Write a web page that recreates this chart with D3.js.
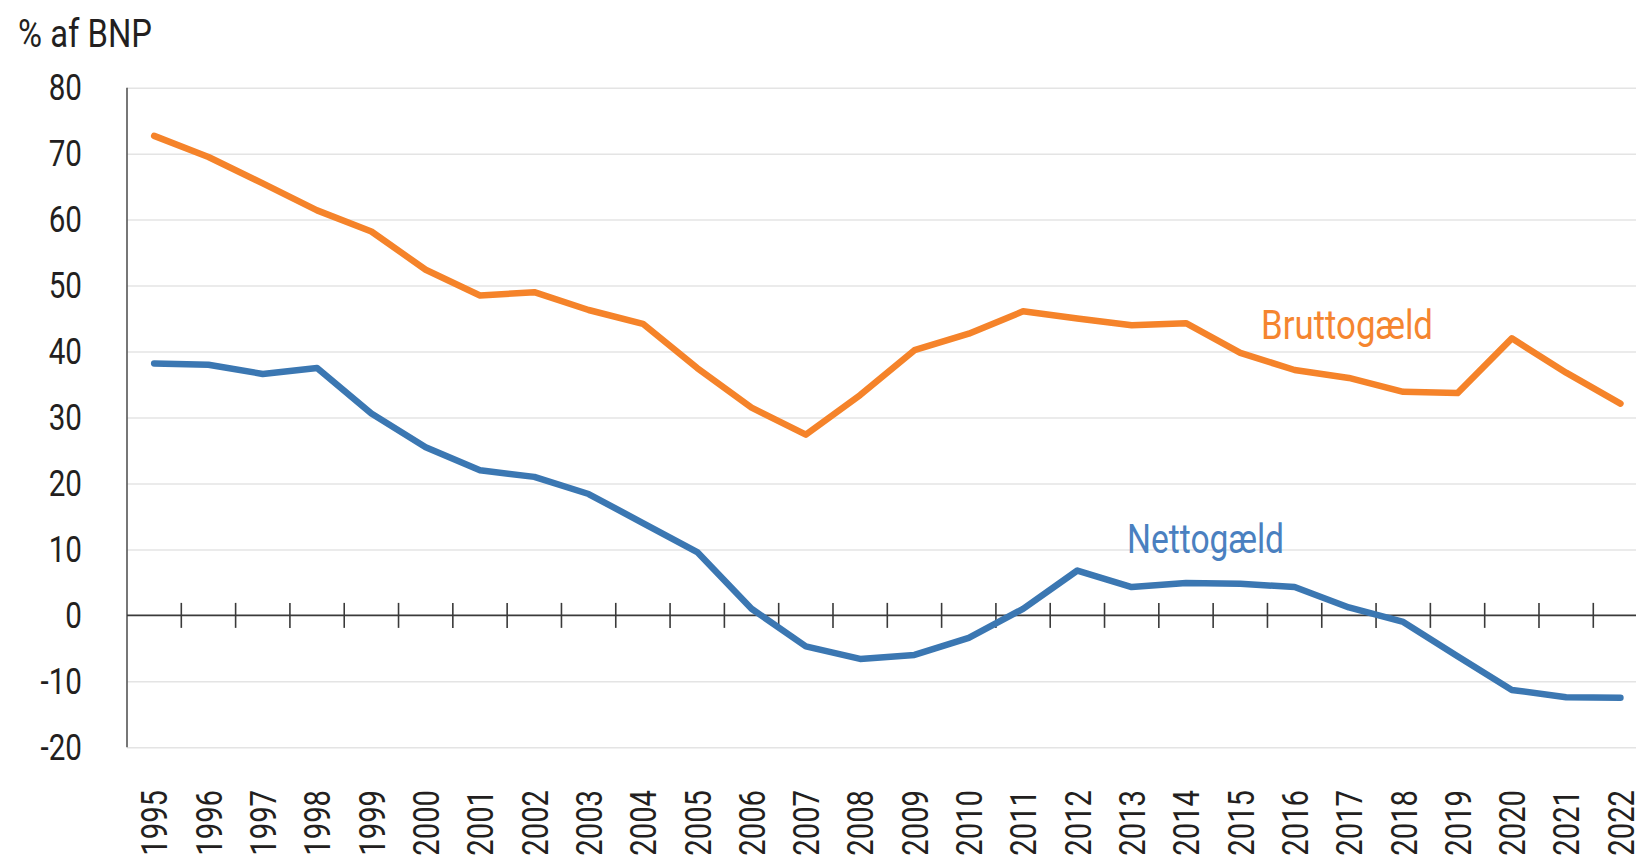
<!DOCTYPE html>
<html>
  <head>
    <meta charset="utf-8" />
    <title>Brutto- og nettogæld</title>
    <script src="https://d3js.org/d3.v7.min.js"></script>
    <style>
      body {
        margin: 0;
        background: #fff;
      }
      svg {
        display: block;
        font-family: Roboto, "Liberation Sans", sans-serif;
      }
      .grid line {
        stroke: #e4e4e4;
        stroke-width: 1.5;
      }
      .tick text {
        fill: #231f20;
      }
    </style>
  </head>
  <body>
    <svg width="1636" height="860"></svg>

    <script>
      // Data, % af BNP
      const years = ["1995", "1996", "1997", "1998", "1999", "2000", "2001", "2002", "2003", "2004",
        "2005", "2006", "2007", "2008", "2009", "2010", "2011", "2012", "2013", "2014",
        "2015", "2016", "2017", "2018", "2019", "2020", "2021", "2022"];
      const brutto = [72.7, 69.5, 65.5, 61.4, 58.2, 52.4, 48.5, 49.0, 46.3, 44.2,
        37.5, 31.5, 27.4, 33.4, 40.2, 42.7, 46.1, 45.0, 44.0, 44.3,
        39.8, 37.2, 36.0, 33.9, 33.7, 42.0, 36.8, 32.1];
      const netto = [38.2, 38.0, 36.6, 37.5, 30.6, 25.5, 22.0, 21.0, 18.4, 14.0,
        9.6, 1.0, -4.7, -6.6, -6.0, -3.4, 1.0, 6.8, 4.3, 4.9,
        4.8, 4.3, 1.2, -1.0, -6.2, -11.3, -12.4, -12.5];
      const yTicks = [-20, -10, 0, 10, 20, 30, 40, 50, 60, 70, 80];

      const svg = d3.select("svg");
      const width = +svg.attr("width");

      // plot runs past the right edge, as in the original
      const plotLeft = 127, plotRight = 1647.6;
      const plotTop = 87.7, plotBottom = 747.3;

      const x = d3.scaleBand().domain(years).range([plotLeft, plotRight]).padding(0);
      const y = d3.scaleLinear().domain([-20, 80]).range([plotBottom, plotTop]);

      // condensed look: squeeze text horizontally
      function squeeze(sel, factor) {
        sel.each(function () {
          const w = this.getComputedTextLength();
          d3.select(this).attr("textLength", w * factor).attr("lengthAdjust", "spacingAndGlyphs");
        });
      }

      // Gridlines (all but zero)
      svg.append("g")
        .attr("class", "grid")
        .attr("transform", `translate(${plotLeft},0)`)
        .call(d3.axisLeft(y).tickValues(yTicks.filter(d => d !== 0)).tickSize(-(width - plotLeft)).tickFormat(""))
        .call(g => g.select(".domain").remove());

      // Y labels
      svg.append("g")
        .attr("transform", "translate(82,0)")
        .call(d3.axisLeft(y).tickValues(yTicks).tickSize(0).tickPadding(0).tickFormat(d => String(d)))
        .call(g => g.select(".domain").remove())
        .selectAll("text")
        .attr("font-size", 37)
        .attr("font-family", "Roboto, sans-serif")
        .call(squeeze, 0.8);

      // Y axis line
      svg.append("line")
        .attr("x1", plotLeft).attr("x2", plotLeft)
        .attr("y1", y(80)).attr("y2", y(-20))
        .attr("stroke", "#555").attr("stroke-width", 1.6);

      // Zero line with ticks between years
      svg.append("line")
        .attr("x1", plotLeft).attr("x2", width)
        .attr("y1", y(0)).attr("y2", y(0))
        .attr("stroke", "#3a3a3a").attr("stroke-width", 1.6);

      svg.append("g")
        .selectAll("line")
        .data(years.slice(1))
        .join("line")
        .attr("x1", d => x(d)).attr("x2", d => x(d))
        .attr("y1", y(0) - 12.5).attr("y2", y(0) + 12.5)
        .attr("stroke", "#3a3a3a").attr("stroke-width", 1.6);

      // Year labels, rotated
      svg.append("g")
        .attr("transform", "translate(0,790)")
        .call(d3.axisBottom(x).tickSize(0))
        .call(g => g.select(".domain").remove())
        .selectAll("text")
        .attr("font-size", 37)
        .attr("font-family", "Roboto, sans-serif")
        .attr("transform", "rotate(-90)")
        .attr("text-anchor", "end")
        .attr("x", 0).attr("y", 0).attr("dy", "0.36em")
        .call(squeeze, 0.79);

      const line = d3.line()
        .x((d, i) => x(years[i]) + x.bandwidth() / 2)
        .y(d => y(d));

      svg.append("path")
        .datum(brutto)
        .attr("d", line)
        .attr("fill", "none")
        .attr("stroke", "#f5832a")
        .attr("stroke-width", 6.5)
        .attr("stroke-linejoin", "round")
        .attr("stroke-linecap", "round");

      svg.append("path")
        .datum(netto)
        .attr("d", line)
        .attr("fill", "none")
        .attr("stroke", "#3b77b2")
        .attr("stroke-width", 6.5)
        .attr("stroke-linejoin", "round")
        .attr("stroke-linecap", "round");

      // Series labels
      svg.append("text")
        .attr("x", 1261).attr("y", 339)
        .attr("font-size", 40)
        .attr("fill", "#f5852f")
        .attr("textLength", 172).attr("lengthAdjust", "spacingAndGlyphs")
        .text("Bruttogæld");

      svg.append("text")
        .attr("x", 1127).attr("y", 553)
        .attr("font-size", 40)
        .attr("fill", "#4a80c0")
        .attr("textLength", 157).attr("lengthAdjust", "spacingAndGlyphs")
        .text("Nettogæld");

      // Unit title
      svg.append("text")
        .attr("x", 18).attr("y", 47)
        .attr("font-size", 38)
        .attr("fill", "#231f20")
        .attr("textLength", 134).attr("lengthAdjust", "spacingAndGlyphs")
        .text("% af BNP");
    </script>
  </body>
</html>
